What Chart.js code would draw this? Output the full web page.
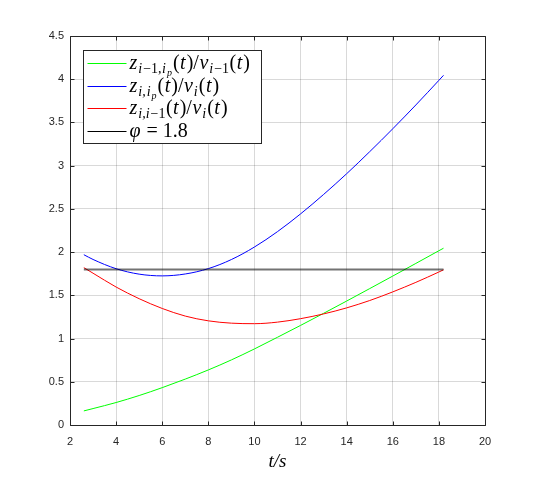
<!DOCTYPE html>
<html><head><meta charset="utf-8">
<script src="https://cdn.jsdelivr.net/npm/chart.js@4"></script>
<style>html,body{margin:0;padding:0;background:#fff}#wrap{width:537px;height:479px}</style>
</head><body><div id="wrap"><canvas id="c" width="537" height="479"></canvas></div>
<script>
const tValues = [2.6, 3, 4, 5, 6, 7, 8, 9, 10, 11, 12, 13, 14, 15, 16, 17, 18, 18.2];
const greenValues = [0.163, 0.19, 0.26, 0.341, 0.432, 0.531, 0.637, 0.753, 0.88, 1.015, 1.152, 1.292, 1.434, 1.578, 1.723, 1.869, 2.016, 2.045];
const blueValues = [1.97, 1.915, 1.808, 1.745, 1.725, 1.747, 1.809, 1.914, 2.059, 2.237, 2.442, 2.667, 2.907, 3.162, 3.427, 3.702, 3.987, 4.045];
const redValues = [1.82, 1.756, 1.596, 1.461, 1.348, 1.26, 1.205, 1.178, 1.172, 1.19, 1.23, 1.285, 1.355, 1.44, 1.54, 1.65, 1.77, 1.795];
const phiValues = [1.8, 1.8];
const phiT = [2.6, 18.2];
const xTickLabels = ['2','4','6','8','10','12','14','16','18','20'];
const yTickLabels = ['0','0.5','1','1.5','2','2.5','3','3.5','4','4.5'];
const xTitle = 't/s';

const pts = (xs, ys) => xs.map((x, i) => ({x, y: ys[i]}));

// legend entries as math runs: [text, level(m/s/ss), italic]
const legendEntries = [
  {color: '#00ff00', runs: [['z','m',1],['i','s',1],['\u22121,','s',0],['i','s',1],['p','ss',1],['(','m',0],['t','m',1],[')/','m',0],['v','m',1],['i','s',1],['\u22121','s',0],['(','m',0],['t','m',1],[')','m',0]]},
  {color: '#0000ff', runs: [['z','m',1],['i,','s',1],['i','s',1],['p','ss',1],['(','m',0],['t','m',1],[')/','m',0],['v','m',1],['i','s',1],['(','m',0],['t','m',1],[')','m',0]]},
  {color: '#ff0000', runs: [['z','m',1],['i,i','s',1],['\u22121','s',0],['(','m',0],['t','m',1],[')/','m',0],['v','m',1],['i','s',1],['(','m',0],['t','m',1],[')','m',0]]},
  {color: '#000000', runs: [['\u03C6','m',1],[' = 1.8','m',0]]}
];

const boxPlugin = {
  id: 'matlabBox',
  afterDatasetsDraw(chart) {
    const ctx = chart.ctx, a = chart.chartArea;
    const xs = chart.scales.x, ys = chart.scales.y;
    ctx.save();
    ctx.strokeStyle = '#262626';
    ctx.lineWidth = 1;
    const L = Math.round(a.left) + 0.5, R = Math.round(a.right) + 0.5, T = Math.round(a.top) + 0.5, B = Math.round(a.bottom) + 0.5;
    ctx.beginPath();
    ctx.rect(L, T, R - L, B - T);
    xs.ticks.forEach(t => {
      const p = Math.round(xs.getPixelForValue(t.value)) + 0.5;
      ctx.moveTo(p, B); ctx.lineTo(p, B - 4);
      ctx.moveTo(p, T); ctx.lineTo(p, T + 4);
    });
    ys.ticks.forEach(t => {
      const p = Math.round(ys.getPixelForValue(t.value)) + 0.5;
      ctx.moveTo(L, p); ctx.lineTo(L + 4, p);
      ctx.moveTo(R, p); ctx.lineTo(R - 4, p);
    });
    ctx.stroke();

    // legend
    const lx = Math.round(a.left) + 13.5, ly = Math.round(a.top) + 14.5, lw = 178, lh = 93;
    ctx.fillStyle = '#fff';
    ctx.fillRect(lx, ly, lw, lh);
    ctx.strokeStyle = '#262626';
    ctx.strokeRect(lx, ly, lw, lh);
    const sizes = {m: 20, s: 14, ss: 10};
    const drop = {m: 0, s: 4, ss: 7};
    legendEntries.forEach((e, i) => {
      const cy = Math.round(ly + 12.5 + i * 22.7) + 0.5;
      ctx.strokeStyle = e.color;
      ctx.lineWidth = 1;
      ctx.beginPath();
      ctx.moveTo(lx + 4, cy); ctx.lineTo(lx + 43, cy);
      ctx.stroke();
      let x = lx + 46;
      const base = cy + 5;
      ctx.fillStyle = '#000';
      ctx.textBaseline = 'alphabetic';
      e.runs.forEach(([txt, lev, it]) => {
        ctx.font = (it ? 'italic ' : '') + sizes[lev] + 'px "Liberation Serif", "DejaVu Serif", serif';
        ctx.fillText(txt, x, base + drop[lev]);
        x += ctx.measureText(txt).width + (it ? 1 : 0.5);
      });
    });
    ctx.restore();
  }
};

const ds = (label, data, color, width) => ({
  label, data, borderColor: color, backgroundColor: color, borderWidth: width,
  pointRadius: 0, fill: false, cubicInterpolationMode: 'monotone'
});

new Chart(document.getElementById('c'), {
  type: 'line',
  data: {
    datasets: [
      ds('phi = 1.8', pts(phiT, phiValues), 'rgba(0,0,0,0.55)', 2),
      ds('z_{i,i-1}(t)/v_i(t)', pts(tValues, redValues), '#ff0000', 1),
      ds('z_{i,ip}(t)/v_i(t)', pts(tValues, blueValues), '#0000ff', 1),
      ds('z_{i-1,ip}(t)/v_{i-1}(t)', pts(tValues, greenValues), '#00ff00', 1)
    ]
  },
  options: {
    responsive: false,
    animation: false,
    devicePixelRatio: 1,
    layout: {padding: {left: 0, right: 52, top: 36, bottom: 0}},
    plugins: {legend: {display: false}, tooltip: {enabled: false}},
    scales: {
      x: {
        type: 'linear', min: 2, max: 20,
        afterFit: s => { s.height = 54; },
        afterBuildTicks: s => { s.ticks = xTickLabels.map(v => ({value: +v})); },
        ticks: {stepSize: 2, padding: 10, color: '#262626', font: {family: '"Liberation Sans", Arial, sans-serif', size: 11},
          callback: (v, i) => xTickLabels[i]},
        grid: {color: 'rgba(0,0,0,0.15)', drawTicks: false},
        border: {display: false},
        title: {display: true, text: xTitle, color: '#000', padding: {top: 0, bottom: 8},
          font: {family: '"Liberation Serif", serif', style: 'italic', size: 19, lineHeight: 1}}
      },
      y: {
        type: 'linear', min: 0, max: 4.5,
        afterFit: s => { s.width = 70; },
        afterBuildTicks: s => { s.ticks = yTickLabels.map(v => ({value: +v})); },
        ticks: {stepSize: 0.5, padding: 6, color: '#262626', font: {family: '"Liberation Sans", Arial, sans-serif', size: 11},
          callback: (v, i) => yTickLabels[i]},
        grid: {color: 'rgba(0,0,0,0.15)', drawTicks: false},
        border: {display: false}
      }
    }
  },
  plugins: [boxPlugin]
});
</script>
</body></html>
